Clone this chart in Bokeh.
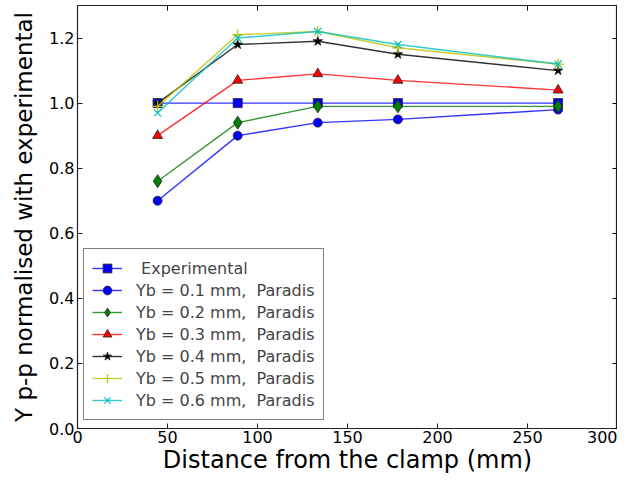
import math
from bokeh.plotting import figure
from bokeh.models import LinearAxis, FixedTicker, NumeralTickFormatter, Range1d
from bokeh.embed import file_html
from bokeh.resources import INLINE

# ---- data ----
distance = [44.5, 89, 133.5, 178, 267]
experimental = [1.00, 1.00, 1.00, 1.00, 1.00]
yb01 = [0.70, 0.90, 0.94, 0.95, 0.98]
yb02 = [0.76, 0.94, 0.99, 0.99, 0.99]
yb03 = [0.90, 1.07, 1.09, 1.07, 1.04]
yb04 = [1.00, 1.18, 1.19, 1.15, 1.10]
yb05 = [0.99, 1.21, 1.22, 1.17, 1.12]
yb06 = [0.97, 1.20, 1.22, 1.18, 1.12]
x_ticks = [0, 50, 100, 150, 200, 250, 300]
y_ticks = [0.0, 0.2, 0.4, 0.6, 0.8, 1.0, 1.2]

series = [
    (" Experimental", experimental, "#0000ff", "square", 9),
    ("Yb = 0.1 mm,  Paradis", yb01, "#0000ff", "circle", 9),
    ("Yb = 0.2 mm,  Paradis", yb02, "#008000", "diamond", 13),
    ("Yb = 0.3 mm,  Paradis", yb03, "#ff0000", "triangle", 10),
    ("Yb = 0.4 mm,  Paradis", yb04, "#000000", "star", 10),
    ("Yb = 0.5 mm,  Paradis", yb05, "#bfbf00", "cross", 11),
    ("Yb = 0.6 mm,  Paradis", yb06, "#00bfbf", "x", 10),
]

FONT = "DejaVu Sans"

p = figure(width=617, height=476, output_backend="svg",
           toolbar_location=None, x_range=Range1d(0, 300), y_range=Range1d(0, 1.3),
           min_border_left=77, min_border_right=0, min_border_top=5, min_border_bottom=0)
p.xgrid.visible = False
p.ygrid.visible = False
p.outline_line_color = "#222222"
p.outline_line_width = 1.2
p.background_fill_color = "white"
p.border_fill_color = "white"

for label, ys, color, marker, size in series:
    p.line(distance, ys, line_color=color, line_width=1.4, line_alpha=0.8, legend_label=label)
    if marker in ("cross", "x"):
        p.scatter(distance, ys, marker=marker, size=size, line_color=color, line_width=1.2,
                  legend_label=label)
    else:
        p.scatter(distance, ys, marker=marker, size=size, fill_color=color,
                  line_color="#222222", line_width=0.8, legend_label=label)

# axes styling
for ax in (p.xaxis[0], p.yaxis[0]):
    ax.major_tick_in = 5
    ax.major_tick_out = 0
    ax.minor_tick_line_color = None
    ax.axis_line_color = "#222222"
    ax.major_tick_line_color = "#222222"
    ax.major_label_text_font = FONT
    ax.major_label_text_font_size = "16px"
    ax.major_label_text_color = "black"
    ax.axis_label_text_font = FONT
    ax.axis_label_text_font_size = "24px"
    ax.axis_label_text_font_style = "normal"
    ax.axis_label_text_color = "black"

p.xaxis[0].ticker = FixedTicker(ticks=x_ticks)
p.yaxis[0].ticker = FixedTicker(ticks=y_ticks)
p.yaxis[0].formatter = NumeralTickFormatter(format="0.0")
p.xaxis[0].major_label_standoff = 2
p.yaxis[0].major_label_standoff = 3
p.xaxis[0].axis_label = "Distance from the clamp (mm)"
p.xaxis[0].axis_label_standoff = 0
p.yaxis[0].axis_label = "Y p-p normalised with experimental"
p.yaxis[0].axis_label_text_font_size = "23px"
p.yaxis[0].axis_label_standoff = 9

top = LinearAxis(ticker=FixedTicker(ticks=x_ticks), major_label_text_color=None,
                 major_label_text_font_size="1px",
                 major_tick_in=5, major_tick_out=0, minor_tick_line_color=None,
                 axis_line_color="#222222", major_label_standoff=0)
right = LinearAxis(ticker=FixedTicker(ticks=y_ticks), major_label_text_color=None,
                   major_label_text_font_size="1px",
                   major_tick_in=5, major_tick_out=0, minor_tick_line_color=None,
                   axis_line_color="#222222", major_label_standoff=0)
p.add_layout(top, "above")
p.add_layout(right, "right")

lg = p.legend[0]
lg.location = (6, 8)
lg.margin = 0
lg.padding = 8
lg.spacing = 0
lg.glyph_width = 30
lg.glyph_height = 22
lg.label_height = 22
lg.label_standoff = 14
lg.label_text_font = FONT
lg.label_text_font_size = "16px"
lg.border_line_color = "black"
lg.border_line_width = 1.3
lg.background_fill_alpha = 1

open("out.html", "w").write(file_html(p, INLINE))
